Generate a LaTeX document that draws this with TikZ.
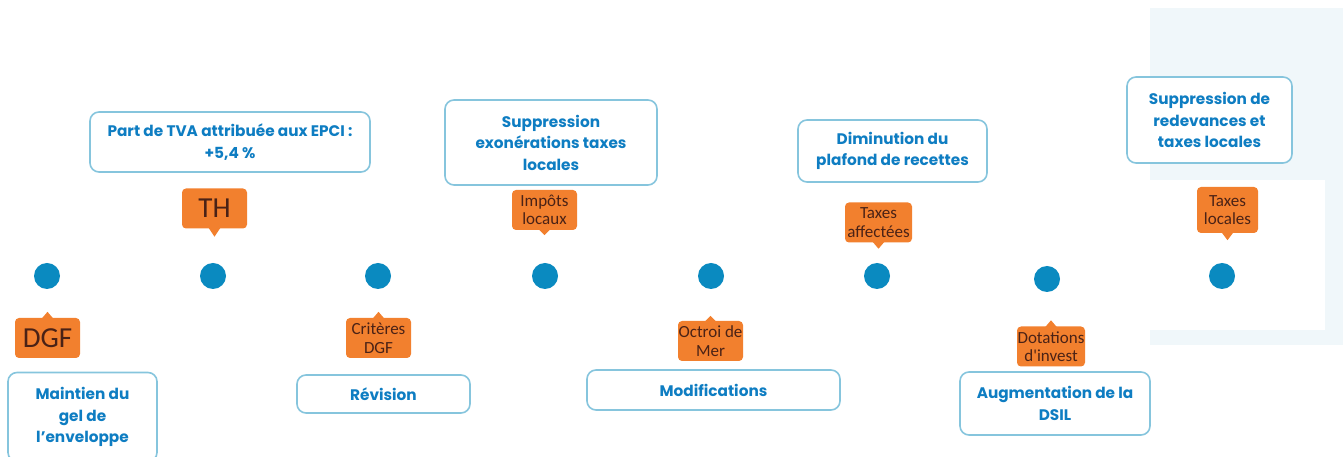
\documentclass[tikz,border=0pt]{standalone}
\usepackage{fontspec}
\setmainfont{Poppins}
\newfontfamily\tagfamily{Carlito}
\usepackage{tikz}
\usetikzlibrary{positioning,calc}
\definecolor{dotblue}{HTML}{0A8AC0}
\definecolor{boxline}{HTML}{86C5DD}
\definecolor{boxtext}{HTML}{0E7DC2}
\definecolor{tagfill}{HTML}{F2802E}
\definecolor{tagtext}{HTML}{4A2216}
\definecolor{scanbg}{HTML}{F0F7FA}
\tikzset{
  stepdot/.style={circle,fill=dotblue,minimum size=26pt,inner sep=0pt},
  infobox/.style={rectangle,rounded corners=9pt,draw=boxline,fill=white,
    line width=1.6pt,text=boxtext,align=center,inner sep=0pt,
    font=\fontsize{15.3}{21.5}\selectfont\bfseries},
  tagbox/.style={rectangle,rounded corners=4pt,fill=tagfill,text=tagtext,
    align=center,inner sep=0pt,minimum width=65pt,minimum height=40pt},
  tagbig/.style={tagbox,font=\tagfamily\fontsize{29}{29}\selectfont},
  tagsmall/.style={tagbox,font=\tagfamily\fontsize{17}{18.5}\selectfont},
  tagtip/.style={fill=tagfill},
}

\begin{document}
\begin{tikzpicture}[x=1pt,y=1pt]
  \useasboundingbox (0,0) rectangle (1343,457);
  % faint scan background on the right
  \fill[scanbg] (1150,112) rectangle (1343,449);
  \fill[white] (1150,127) rectangle (1325,277);

  % timeline dots
  \node[stepdot] (d1) at (47,181) {};
  \node[stepdot] (d2) at (213,181) {};
  \node[stepdot] (d3) at (378,181) {};
  \node[stepdot] (d4) at (545,181) {};
  \node[stepdot] (d5) at (711,181) {};
  \node[stepdot] (d6) at (877,181) {};
  \node[stepdot] (d7) at (1047,178) {};
  \node[stepdot] (d8) at (1222,181) {};

  % orange tags
  \node[tagbig]   (t1) at (47.5,119) {DGF};
  \node[tagbig]   (t2) at (214.5,248.5) {TH};
  \node[tagsmall] (t3) at (378.5,119) {Critères\\DGF};
  \node[tagsmall] (t4) at (544.5,247) {Impôts\\locaux};
  \node[tagsmall] (t5) at (710.5,116) {Octroi de\\Mer};
  \node[tagsmall, minimum width=67pt] (t6) at (878.5,234.5) {Taxes\\affectées};
  \node[tagsmall, minimum width=68pt] (t7) at (1051,110.5) {Dotations\\d'invest};
  \node[tagsmall, minimum width=61pt, minimum height=46pt] (t8) at (1227.5,247) {Taxes\\locales};

  % tag pointers
  \fill[tagtip] ($(t1.north)+(-6,-1)$) -- ++(6,7) -- ++(6,-7) -- cycle;
  \fill[tagtip] ($(t2.south)+(-6,1)$) -- ++(6,-9) -- ++(6,9) -- cycle;
  \fill[tagtip] ($(t3.north)+(-6,-1)$) -- ++(6,7) -- ++(6,-7) -- cycle;
  \fill[tagtip] ($(t4.south)+(-6,1)$) -- ++(6,-6) -- ++(6,6) -- cycle;
  \fill[tagtip] ($(t5.north)+(-6,-1)$) -- ++(6,6) -- ++(6,-6) -- cycle;
  \fill[tagtip] ($(t6.south)+(-6,1)$) -- ++(6,-7) -- ++(6,7) -- cycle;
  \fill[tagtip] ($(t7.north)+(-6,-1)$) -- ++(6,7) -- ++(6,-7) -- cycle;
  \fill[tagtip] ($(t8.south)+(-6,1)$) -- ++(6,-8) -- ++(6,8) -- cycle;

  % blue boxes
  \node[infobox, minimum width=149pt, minimum height=89pt] (b1) at (82.5,40) {Maintien du\\gel de\\l'enveloppe};
  \node[infobox, minimum width=280pt, minimum height=60pt] (b2) at (230,315) {Part de TVA attribuée aux EPCI :\\+5,4 \%};
  \node[infobox, minimum width=173pt, minimum height=38pt] (b3) at (383.5,63) {Révision};
  \node[infobox, minimum width=212pt, minimum height=85pt] (b4) at (551,314.5) {Suppression\\exonérations taxes\\locales};
  \node[infobox, minimum width=253pt, minimum height=40pt] (b5) at (713.5,67) {Modifications};
  \node[infobox, minimum width=189pt, minimum height=62pt] (b6) at (892.5,306) {Diminution du\\plafond de recettes};
  \node[infobox, minimum width=190pt, minimum height=63pt] (b7) at (1055,53.5) {Augmentation de la\\DSIL};
  \node[infobox, minimum width=165pt, minimum height=86pt] (b8) at (1209.5,337) {Suppression de\\redevances et\\taxes locales};
\end{tikzpicture}
\end{document}
